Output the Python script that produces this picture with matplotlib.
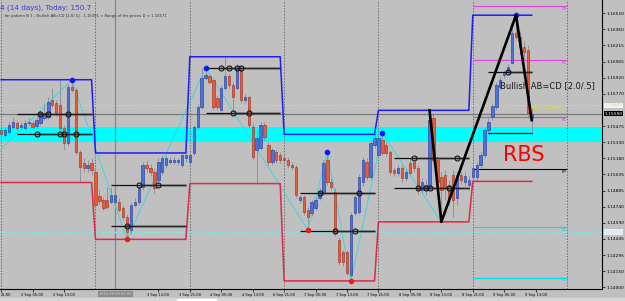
import numpy as np
import pandas as pd
import matplotlib
matplotlib.use('Agg')
import matplotlib.pyplot as plt
from matplotlib.transforms import blended_transform_factory
from matplotlib.patches import Rectangle

# H1 bars, bar 0 = 1 Sep 21:00, 24 bars per trading day
opens = [
    # day 1
    1.1544, 1.1539, 1.1542, 1.1547, 1.1550, 1.1547, 1.1546, 1.1550, 1.1550, 1.1548, 1.1550, 1.1555,
    1.1556, 1.1571, 1.1569, 1.1567, 1.1546, 1.1532, 1.1583, 1.1581, 1.1524, 1.1514, 1.1509, 1.1514,
    # day 2
    1.1506, 1.1484, 1.1480, 1.1480, 1.1478, 1.1478, 1.1478, 1.1473, 1.1464, 1.1453, 1.1475, 1.1478,
    1.1492, 1.1512, 1.1509, 1.1506, 1.1498, 1.1506, 1.1512, 1.1515, 1.1515, 1.1515, 1.1512, 1.1518,
    # day 3
    1.1515, 1.1523, 1.1547, 1.1565, 1.1592, 1.1593, 1.1590, 1.1573, 1.1562, 1.1582, 1.1593, 1.1585,
    1.1582, 1.1599, 1.1571, 1.1574, 1.1547, 1.1526, 1.1528, 1.1549, 1.1530, 1.1515, 1.1524, 1.1521,
    # day 4
    1.1518, 1.1517, 1.1512, 1.1510, 1.1480, 1.1483, 1.1471, 1.1468, 1.1473, 1.1482, 1.1487, 1.1517,
    1.1496, 1.1487, 1.1443, 1.1432, 1.1432, 1.1411, 1.1468, 1.1469, 1.1496, 1.1515, 1.1501, 1.1530,
    # day 5
    1.1521, 1.1535, 1.1530, 1.1524, 1.1507, 1.1505, 1.1509, 1.1500, 1.1514, 1.1515, 1.1509, 1.1489,
    1.1489, 1.1492, 1.1555, 1.1517, 1.1501, 1.1503, 1.1494, 1.1503, 1.1482, 1.1503, 1.1496, 1.1494,
    # day 6
    1.1501, 1.1501, 1.1512, 1.1521, 1.1544, 1.1556, 1.1565, 1.1583, 1.1594, 1.1597, 1.1605, 1.1633,
    1.1629, 1.1620, 1.1617, 1.1555,
]
closes = [
    1.1540, 1.1544, 1.1549, 1.1551, 1.1546, 1.1549, 1.1550, 1.1551, 1.1547, 1.1553, 1.1560, 1.1560,
    1.1570, 1.1567, 1.1560, 1.1546, 1.1532, 1.1583, 1.1581, 1.1524, 1.1510, 1.1509, 1.1512, 1.1507,
    1.1475, 1.1479, 1.1473, 1.1474, 1.1485, 1.1485, 1.1471, 1.1464, 1.1451, 1.1475, 1.1478, 1.1491,
    1.1512, 1.1509, 1.1506, 1.1491, 1.1515, 1.1518, 1.1518, 1.1517, 1.1517, 1.1517, 1.1521, 1.1521,
    1.1521, 1.1547, 1.1565, 1.1592, 1.1594, 1.1588, 1.1565, 1.1565, 1.1582, 1.1593, 1.1585, 1.1574,
    1.1601, 1.1571, 1.1574, 1.1549, 1.1519, 1.1537, 1.1549, 1.1538, 1.1515, 1.1526, 1.1517, 1.1517,
    1.1517, 1.1512, 1.1510, 1.1485, 1.1483, 1.1469, 1.1464, 1.1478, 1.1480, 1.1487, 1.1514, 1.1496,
    1.1492, 1.1450, 1.1423, 1.1423, 1.1413, 1.1466, 1.1483, 1.1501, 1.1517, 1.1501, 1.1532, 1.1537,
    1.1537, 1.1523, 1.1523, 1.1506, 1.1505, 1.1509, 1.1500, 1.1506, 1.1505, 1.1509, 1.1489, 1.1496,
    1.1494, 1.1553, 1.1517, 1.1496, 1.1489, 1.1492, 1.1482, 1.1480, 1.1503, 1.1498, 1.1502, 1.1498,
    1.1509, 1.1512, 1.1521, 1.1544, 1.1551, 1.1566, 1.1585, 1.1590, 1.1596, 1.1602, 1.1633, 1.1629,
    1.1620, 1.1615, 1.1560, 1.1559,
]
highs = [
    1.1547, 1.1547, 1.1551, 1.1556, 1.1553, 1.1551, 1.1553, 1.1555, 1.1552, 1.1557, 1.1562, 1.1569,
    1.1574, 1.1582, 1.1571, 1.1590, 1.1549, 1.1586, 1.1590, 1.1582, 1.1526, 1.1518, 1.1517, 1.1518,
    1.1509, 1.1489, 1.1483, 1.1492, 1.1492, 1.1489, 1.1482, 1.1475, 1.1467, 1.1478, 1.1482, 1.1494,
    1.1515, 1.1517, 1.1513, 1.1509, 1.1518, 1.1521, 1.1521, 1.1519, 1.1519, 1.1518, 1.1522, 1.1523,
    1.1523, 1.1549, 1.1568, 1.1601, 1.1601, 1.1595, 1.1592, 1.1576, 1.1585, 1.1611, 1.1595, 1.1588,
    1.1604, 1.1603, 1.1577, 1.1576, 1.1550, 1.1544, 1.1551, 1.1551, 1.1533, 1.1528, 1.1526, 1.1524,
    1.1521, 1.1519, 1.1515, 1.1512, 1.1485, 1.1485, 1.1474, 1.1480, 1.1483, 1.1491, 1.1517, 1.1524,
    1.1500, 1.1491, 1.1446, 1.1434, 1.1434, 1.1469, 1.1485, 1.1504, 1.1519, 1.1518, 1.1535, 1.1540,
    1.1539, 1.1541, 1.1533, 1.1526, 1.1510, 1.1512, 1.1512, 1.1509, 1.1518, 1.1518, 1.1512, 1.1500,
    1.1498, 1.1562, 1.1560, 1.1520, 1.1506, 1.1507, 1.1498, 1.1507, 1.1506, 1.1506, 1.1506, 1.1502,
    1.1512, 1.1515, 1.1524, 1.1547, 1.1555, 1.1569, 1.1588, 1.1593, 1.1599, 1.1604, 1.1637, 1.1649,
    1.1635, 1.1625, 1.1622, 1.1564,
]
lows = [
    1.1538, 1.1538, 1.1540, 1.1545, 1.1544, 1.1544, 1.1544, 1.1548, 1.1545, 1.1546, 1.1549, 1.1553,
    1.1554, 1.1565, 1.1557, 1.1544, 1.1526, 1.1529, 1.1579, 1.1521, 1.1496, 1.1506, 1.1506, 1.1503,
    1.1473, 1.1476, 1.1471, 1.1472, 1.1476, 1.1476, 1.1469, 1.1462, 1.1444, 1.1449, 1.1474, 1.1475,
    1.1489, 1.1506, 1.1502, 1.1486, 1.1495, 1.1503, 1.1509, 1.1513, 1.1513, 1.1512, 1.1509, 1.1515,
    1.1512, 1.1521, 1.1545, 1.1563, 1.1590, 1.1586, 1.1562, 1.1562, 1.1561, 1.1581, 1.1582, 1.1558,
    1.1581, 1.1569, 1.1569, 1.1546, 1.1517, 1.1495, 1.1526, 1.1535, 1.1512, 1.1512, 1.1514, 1.1514,
    1.1515, 1.1509, 1.1507, 1.1482, 1.1477, 1.1466, 1.1453, 1.1465, 1.1471, 1.1480, 1.1485, 1.1494,
    1.1489, 1.1447, 1.1421, 1.1420, 1.1411, 1.1406, 1.1465, 1.1467, 1.1493, 1.1498, 1.1499, 1.1528,
    1.1518, 1.1521, 1.1520, 1.1503, 1.1502, 1.1502, 1.1496, 1.1497, 1.1502, 1.1506, 1.1485, 1.1486,
    1.1485, 1.1489, 1.1514, 1.1489, 1.1460, 1.1480, 1.1475, 1.1464, 1.1475, 1.1495, 1.1493, 1.1489,
    1.1498, 1.1497, 1.1509, 1.1518, 1.1541, 1.1553, 1.1562, 1.1581, 1.1592, 1.1594, 1.1604, 1.1626,
    1.1613, 1.1608, 1.1555, 1.1541,
]

# zigzag turning points (bar, price)
zz_bars = [-1, 18, 32, 52, 78, 83, 89, 97, 112, 131, 135]
zz_prices = [1.1523, 1.1590, 1.1444, 1.1601, 1.1453, 1.1524, 1.1406, 1.1541, 1.1460, 1.1649, 1.1553]
zz_high_bars = [18, 52, 83, 97, 131]
zz_low_bars = [32, 78, 89]

# AB=CD pattern points
abcd_bars = [109, 112, 131, 135]
abcd_prices = [1.1562, 1.1460, 1.1649, 1.1553]

# daily pattern levels: start bar, end bar, price, touch bars
lvl_start = [4, 4, 28, 28, 52, 52, 76, 76, 100, 100, 124, 124]
lvl_end = [23, 23, 47, 47, 71, 71, 95, 95, 119, 119, 135, 135]
lvl_price = [1.1540, 1.1559, 1.1494, 1.1456, 1.1601, 1.1560, 1.1486, 1.1452, 1.1518, 1.1491, 1.1597, 1.1541]
lvl_touch = [[9, 15, 16, 19], [10, 12, 17], [35, 40], [32], [56, 58, 60, 61], [59, 63],
             [81, 91], [85, 90], [105, 116], [106, 108, 109, 114], [129], []]

# today's pivots
piv_names = ['R3', 'R2', 'R1', 'PP', 'S1', 'S2']
piv_prices = [1.1657, 1.1608, 1.1556, 1.1508, 1.1455, 1.1409]
piv_colors = ['#e040e0', '#e040e0', '#e040e0', '#000000', '#00e0e0', '#00e0e0']

pivot_main = 1.15665
bid = 1.1559
s_dashed = 1.1451
zone_lo, zone_hi = 1.1533, 1.1547

price_ticks = [1.16510, 1.16360, 1.16215, 1.16065, 1.15920, 1.15770, 1.15475, 1.15330, 1.15180,
               1.15035, 1.14885, 1.14740, 1.14590, 1.14445, 1.14295, 1.14150, 1.14000]
time_ticks = [0, 8, 16, 40, 48, 56, 64, 72, 80, 88, 96, 104, 112, 120, 128, 136]
time_labels = ['21:00', '2 Sep 05:00', '2 Sep 13:00', '3 Sep 13:00', '3 Sep 21:00',
               '4 Sep 05:00', '4 Sep 13:00', '6 Sep 21:00', '7 Sep 05:00', '7 Sep 13:00',
               '7 Sep 21:00', '8 Sep 05:00', '8 Sep 13:00', '8 Sep 21:00', '9 Sep 05:00',
               '9 Sep 13:00']

df = pd.DataFrame({'o': opens, 'c': closes, 'h': highs, 'l': lows})
df['bar'] = np.arange(len(df))
df['day'] = df['bar'] // 24
df['up'] = df.groupby('day')['h'].transform('max')
df['dn'] = df.groupby('day')['l'].transform('min')

BG = '#c0c0c0'
fig = plt.figure(figsize=(6.25, 3.01), dpi=100, facecolor=BG)
ax = fig.add_axes([0, 12 / 301, 602 / 625, 289 / 301], facecolor=BG)
ax.set_xlim(-0.3, -0.3 + 602 / 3.93)
ax.set_ylim(1.13986, 1.16629)

# background objects
ax.axhspan(zone_lo, zone_hi, color='#00ffff', lw=0, zorder=1)
for d in range(0, 145, 24):
    ax.axvline(d, color='#6e6e6e', lw=0.7, ls=(0, (1.5, 1.5)), zorder=1.5)
ax.axvline(29, color='#858585', lw=0.9, zorder=1.5)
ax.axhline(pivot_main, color='#e6d84a', lw=0.8, ls=(0, (2.5, 1.5)), zorder=1.6)
ax.axhline(bid, color='#7a7a7a', lw=0.9, zorder=1.6)
ax.axhline(s_dashed, color='#7fe3e3', lw=1.0, ls=(0, (3, 1.5)), zorder=1.6)

# pivots of the current day
for nm, p, col in zip(piv_names, piv_prices, piv_colors):
    ax.hlines(p, 120, 144, colors=col, lw=0.8, zorder=2)
    ax.text(143.8, p - 0.00006, nm, color=col, fontsize=2.8, ha='right', va='top', zorder=2)

# candles
bull = df['c'] >= df['o']
ax.vlines(df['bar'], df['l'], df['h'], color='#8a8a96', lw=0.6, zorder=3)
body = (df['c'] - df['o']).abs().clip(lower=0.00003)
bottom = df[['o', 'c']].min(axis=1)
ax.bar(df['bar'][bull], body[bull], bottom=bottom[bull], width=0.6,
       color='#4a72dc', edgecolor='#22369a', lw=0.4, zorder=4)
ax.bar(df['bar'][~bull], body[~bull], bottom=bottom[~bull], width=0.6,
       color='#e85a38', edgecolor='#a02c18', lw=0.4, zorder=4)

# zigzag
ax.plot(zz_bars, zz_prices, color='#33d6dc', lw=0.6, zorder=3.5)
zz = dict(zip(zz_bars, zz_prices))
ax.plot(zz_high_bars, [zz[b] for b in zz_high_bars], 'o', color='#1414ff', ms=3.0, zorder=6)
ax.plot(zz_low_bars, [zz[b] for b in zz_low_bars], 'o', color='#ff1414', ms=3.0, zorder=6)

# daily high / low channel
ax.plot(df['bar'], df['up'], color='#1c1cff', lw=1.1, zorder=5)
ax.plot(df['bar'], df['dn'], color='#e0284a', lw=1.1, zorder=5)

# pattern levels
for s, e, p, t in zip(lvl_start, lvl_end, lvl_price, lvl_touch):
    ax.hlines(p, s, e, colors='#101010', lw=0.9, zorder=5)
    if t:
        ax.hlines(p, t[0], e, colors='#404040', lw=1.8, alpha=0.45, zorder=5)
        ax.plot(t, [p] * len(t), 'o', mfc='none', mec='#151515', mew=0.8, ms=3.6, zorder=6)

# AB=CD
ax.plot(abcd_bars, abcd_prices, color='black', lw=1.9, zorder=7)

ax.text(126.9, 1.1585, 'Bullish AB=CD [2.0/.5]', fontsize=6, color='#1a1a1a', va='center', zorder=8)
ax.text(127.7, 1.1521, 'RBS', fontsize=15, color='#ff0000', va='center', zorder=8)
ax.text(135, pivot_main - 0.00008, 'Pivot : 1.15665', fontsize=2.8, color='#f0e020', va='top', zorder=8)

# axes
for sp in ['top', 'left']:
    ax.spines[sp].set_visible(False)
for sp in ['right', 'bottom']:
    ax.spines[sp].set_color('black')
    ax.spines[sp].set_linewidth(0.8)
ax.yaxis.tick_right()
ax.set_yticks(price_ticks)
ax.set_yticklabels(['%.5f' % p for p in price_ticks])
ax.set_xticks(time_ticks)
ax.set_xticklabels(time_labels)
ax.get_xticklabels()[0].set_ha('left')
ax.tick_params(axis='y', labelsize=3.2, length=2, width=0.5, pad=1)
ax.tick_params(axis='x', labelsize=2.6, length=2, width=0.5, pad=1)

tr = blended_transform_factory(ax.transAxes, ax.transData)
ax.text(1.004, pivot_main, '1.15665', transform=tr, fontsize=3.2, color='#d8d090', va='center',
        bbox=dict(facecolor='#f4f4f4', edgecolor='none', pad=0.6), clip_on=False, zorder=9)
ax.text(1.004, bid, '1.15590', transform=tr, fontsize=3.2, color='white', va='center',
        bbox=dict(facecolor='black', edgecolor='none', pad=0.6), clip_on=False, zorder=9)
ax.text(1.004, s_dashed, '1.14505', transform=tr, fontsize=3.2, color='#c0ecec', va='center',
        bbox=dict(facecolor='#ececf4', edgecolor='none', pad=0.6), clip_on=False, zorder=9)

trx = blended_transform_factory(ax.transData, ax.transAxes)
ax.text(29, -0.018, '2015.09.03 02:00', transform=trx, fontsize=2.6, color='#d8d8d8', ha='center',
        va='center', bbox=dict(facecolor='#8a8a8a', edgecolor='none', pad=0.8), clip_on=False, zorder=9)

# header
fig.text(0.0, 1 - 8 / 301, '4 (14 days), Today: 150.7', fontsize=5.2, color='#3a3ad8', va='center')
fig.text(0.004, 1 - 16 / 301,
         '- for pattern N 1 - Bullish AB=CD [2.0/.5] - 1.15391 < Range of the prices D < 1.15571',
         fontsize=2.7, color='#303030', va='center')

# scroll strip at the very bottom
fig.patches.append(Rectangle((0, 0), 1, 3 / 301, transform=fig.transFigure, color='#d6d6d6'))
fig.patches.append(Rectangle((177 / 625, 0), 39 / 625, 2 / 301, transform=fig.transFigure, color='white'))

fig.savefig('out.png', dpi=100, facecolor=BG)
